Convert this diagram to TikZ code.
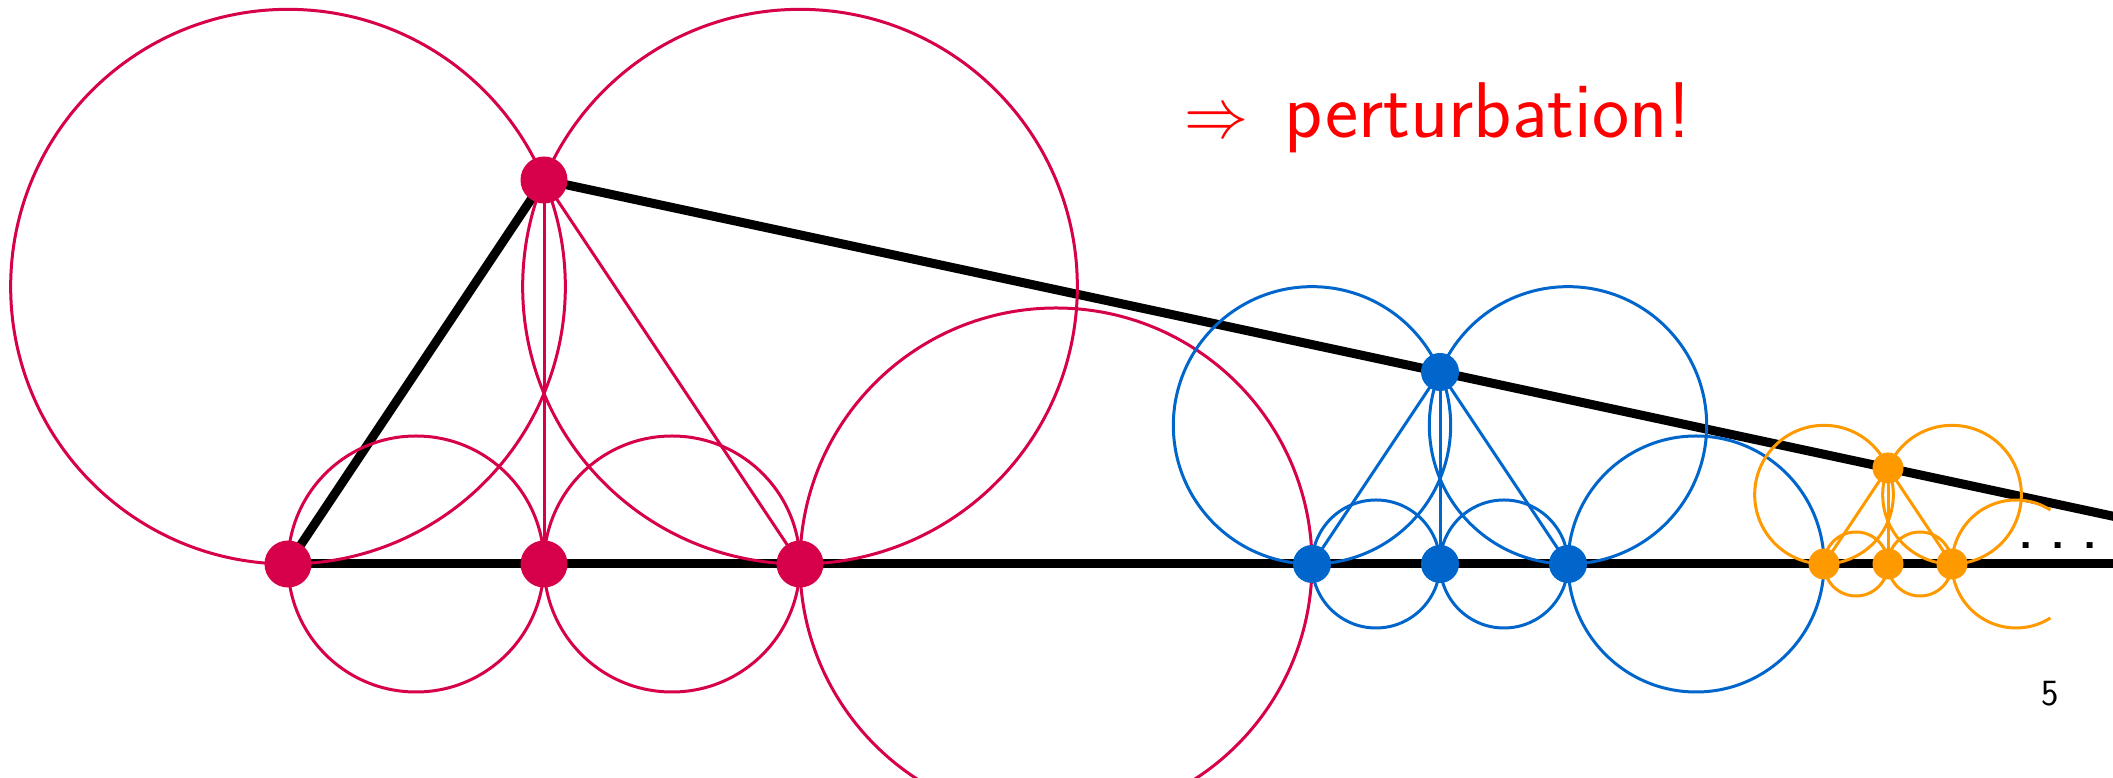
\documentclass[tikz,border=0pt]{standalone}
\usepackage{fontspec}
\usepackage{graphicx}
\definecolor{cRed}{RGB}{214,0,75}
\definecolor{cBlue}{RGB}{0,102,204}
\definecolor{cOrange}{RGB}{255,153,0}
\definecolor{cText}{RGB}{255,0,0}
\begin{document}
\begin{tikzpicture}[x=1pt,y=1pt,
  blk/.style={line width=9pt,black},
  thinline/.style={line width=3pt},
  dotR/.style={circle,fill=cRed,inner sep=0pt,minimum size=47pt},
  dotB/.style={circle,fill=cBlue,inner sep=0pt,minimum size=38pt},
  dotO/.style={circle,fill=cOrange,inner sep=0pt,minimum size=31pt},
  bigtext/.style={inner sep=0pt,font=\sffamily\fontsize{74}{80}\selectfont},
  titletext/.style={inner sep=0pt,font=\sffamily\fontsize{79}{86}\selectfont}]
\useasboundingbox (0,0) rectangle (2113,778);
\clip (0,0) rectangle (2113,778);
% positions
\coordinate (r1) at (288,214);
\coordinate (r2) at (544,214);
\coordinate (r3) at (800,214);
\coordinate (ra) at (544,598);
\coordinate (b1) at (1312,214);
\coordinate (b2) at (1440,214);
\coordinate (b3) at (1568,214);
\coordinate (ba) at (1440,406);
\coordinate (o1) at (1824,214);
\coordinate (o2) at (1888,214);
\coordinate (o3) at (1952,214);
\coordinate (oa) at (1888,310);
\coordinate (vanish) at (2336,214);
% black lines
\draw[blk] (r1) -- (vanish);
\draw[blk,line join=round] (r1) -- (ra) -- (vanish);
% red group
\begin{scope}[thinline,cRed]
  \draw (288,491.33) circle[radius=277.33];
  \draw (800,491.33) circle[radius=277.33];
  \draw (416,214) circle[radius=128];
  \draw (672,214) circle[radius=128];
  \draw (1056,214) circle[radius=256];
  \draw (ra) -- (r2);
  \draw (ra) -- (r3);
\end{scope}
% blue group
\begin{scope}[thinline,cBlue]
  \draw (1312,352.67) circle[radius=138.67];
  \draw (1568,352.67) circle[radius=138.67];
  \draw (1376,214) circle[radius=64];
  \draw (1504,214) circle[radius=64];
  \draw (1696,214) circle[radius=128];
  \draw (ba) -- (b1);
  \draw (ba) -- (b2);
  \draw (ba) -- (b3);
\end{scope}
% orange group
\begin{scope}[thinline,cOrange]
  \draw (1824,283.33) circle[radius=69.33];
  \draw (1952,283.33) circle[radius=69.33];
  \draw (1856,214) circle[radius=32];
  \draw (1920,214) circle[radius=32];
  \draw (2016,214) ++(57.5:64) arc[start angle=57.5,end angle=302.5,radius=64];
  \draw (oa) -- (o1);
  \draw (oa) -- (o2);
  \draw (oa) -- (o3);
\end{scope}
% dots
\node[dotR] (R1) at (r1) {};
\node[dotR] (R2) at (r2) {};
\node[dotR] (R3) at (r3) {};
\node[dotR] (RA) at (ra) {};
\node[dotB] (B1) at (b1) {};
\node[dotB] (B2) at (b2) {};
\node[dotB] (B3) at (b3) {};
\node[dotB] (BA) at (ba) {};
\node[dotO] (O1) at (o1) {};
\node[dotO] (O2) at (o2) {};
\node[dotO] (O3) at (o3) {};
\node[dotO] (OA) at (oa) {};
% texts
\node[titletext,anchor=base west,text=cText] (title) at (1184,640)
  {\scalebox{6.4}[7.0]{\normalsize$\Rightarrow$}\kern12pt\ perturbation!};
\node[bigtext,anchor=base west] (dots) at (2016.7,229) {.\kern12.4pt.\kern12.4pt.};
\node[inner sep=0pt,anchor=base,font=\sffamily\fontsize{37}{40}\selectfont] (pg) at (2050,72) {5};
\end{tikzpicture}
\end{document}
